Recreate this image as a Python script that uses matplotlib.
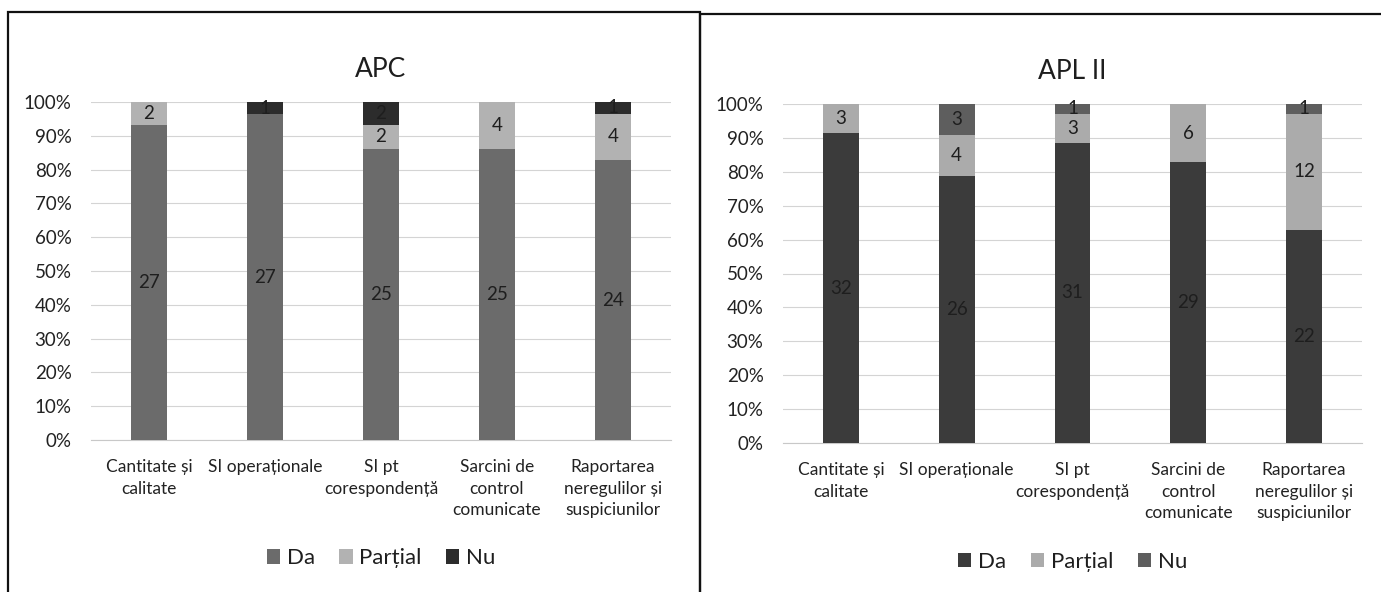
import matplotlib.pyplot as plt
from matplotlib.patches import Rectangle
from matplotlib.ticker import PercentFormatter
import numpy as np

plt.rcParams["font.family"] = ["Lato", "DejaVu Sans"]

categorii = [
    "Cantitate și\ncalitate",
    "SI operaționale",
    "SI pt\ncorespondență",
    "Sarcini de\ncontrol\ncomunicate",
    "Raportarea\nneregulilor și\nsuspiciunilor",
]
serii = ["Da", "Parțial", "Nu"]

# APC
apc_da = [27, 27, 25, 25, 24]
apc_partial = [2, 0, 2, 4, 4]
apc_nu = [0, 1, 2, 0, 1]

# APL II
apl_da = [32, 26, 31, 29, 22]
apl_partial = [3, 4, 3, 6, 12]
apl_nu = [0, 3, 1, 0, 1]

culori_apc = ["#6b6b6b", "#b2b2b2", "#2c2c2c"]
culori_apl = ["#3b3b3b", "#ababab", "#5e5e5e"]

W, H = 1381, 592


def px_axes(fig, x0, x1, y_top, y_bot):
    return fig.add_axes([x0 / W, (H - y_bot) / H, (x1 - x0) / W, (y_bot - y_top) / H])


def panou(ax, titlu, da, partial, nu, culori):
    valori = np.array([da, partial, nu], dtype=float)
    total = valori.sum(axis=0)
    procente = valori / total * 100
    x = np.arange(len(categorii))
    baza = np.zeros(len(categorii))
    for i, nume in enumerate(serii):
        bare = ax.bar(x, procente[i], bottom=baza, width=0.31, color=culori[i],
                      label=nume, zorder=3)
        for b, v in zip(bare, valori[i]):
            if v > 0:
                ax.text(b.get_x() + b.get_width() / 2, b.get_y() + b.get_height() / 2,
                        f"{int(v)}", ha="center", va="center", fontsize=13.5,
                        color="#1e1e1e", zorder=4)
        baza += procente[i]

    ax.set_xlim(-0.5, len(categorii) - 0.5)
    ax.set_ylim(0, 100)
    ax.set_yticks(range(0, 101, 10))
    ax.yaxis.set_major_formatter(PercentFormatter(decimals=0))
    ax.set_xticks(x)
    ax.set_xticklabels(categorii, fontsize=12.5, color="#222222", linespacing=1.4)
    ax.tick_params(axis="y", length=0, pad=14, labelsize=13.5, labelcolor="#222222")
    ax.tick_params(axis="x", length=0, pad=14)
    ax.grid(axis="y", color="#d4d4d4", linewidth=0.8, zorder=0)
    for s in ["top", "right", "left"]:
        ax.spines[s].set_visible(False)
    ax.spines["bottom"].set_color("#c8c8c8")
    ax.set_title(titlu, fontsize=19, color="#1e1e1e", pad=18)
    ax.legend(loc="center", bbox_to_anchor=(0.5, -0.35), ncol=3, frameon=False,
              fontsize=16, handlelength=0.6, handleheight=0.6, handletextpad=0.3,
              columnspacing=1.1, labelcolor="#1e1e1e")


fig = plt.figure(figsize=(W / 100, H / 100), dpi=100)

ax1 = px_axes(fig, 91, 671, 102, 440)
panou(ax1, "APC", apc_da, apc_partial, apc_nu, culori_apc)

ax2 = px_axes(fig, 783, 1362, 104, 443)
panou(ax2, "APL II", apl_da, apl_partial, apl_nu, culori_apl)

# chenarele celor doua grafice
fig.patches.append(Rectangle((8 / W, -0.05), (700 - 8) / W, (H - 12) / H + 0.05,
                             transform=fig.transFigure, fill=False,
                             edgecolor="#111111", linewidth=1.6))
fig.patches.append(Rectangle((700 / W, -0.05), (W + 20 - 700) / W, (H - 14) / H + 0.05,
                             transform=fig.transFigure, fill=False,
                             edgecolor="#111111", linewidth=1.6))

fig.savefig("out.png", dpi=100)
